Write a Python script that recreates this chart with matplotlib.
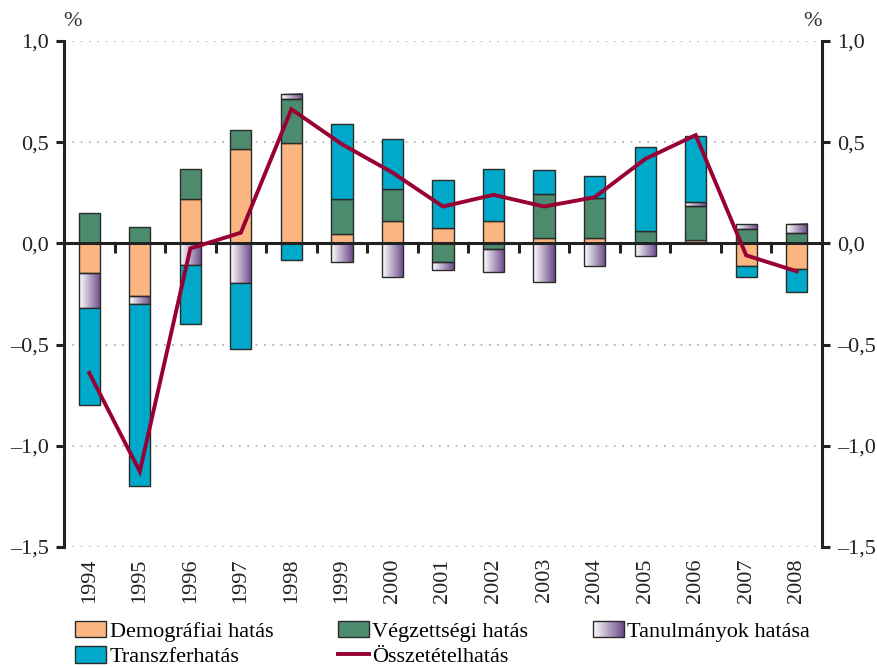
import numpy as np
import matplotlib
matplotlib.use("Agg")
from matplotlib import pyplot as plt
from matplotlib.patches import Rectangle, Patch
from matplotlib.colors import LinearSegmentedColormap
from matplotlib.legend_handler import HandlerBase

years = ['1994', '1995', '1996', '1997', '1998', '1999', '2000', '2001',
         '2002', '2003', '2004', '2005', '2006', '2007', '2008']

demografiai = [-0.145, -0.26, 0.217, 0.466, 0.496, 0.044, 0.113, 0.077,
               0.113, 0.025, 0.026, 0.004, 0.015, -0.112, -0.127]
vegzettsegi = [0.148, 0.08, 0.153, 0.094, 0.217, 0.173, 0.157, -0.094,
               -0.03, 0.218, 0.199, 0.059, 0.171, 0.072, 0.051]
tanulmanyok = [-0.175, -0.04, -0.107, -0.194, 0.027, -0.094, -0.164, -0.039,
               -0.11, -0.19, -0.113, -0.062, 0.017, 0.023, 0.046]
transzfer = [-0.48, -0.90, -0.293, -0.326, -0.08, 0.371, 0.246, 0.237,
             0.257, 0.122, 0.108, 0.414, 0.329, -0.052, -0.114]
osszetetel = [-0.64, -1.127, -0.025, 0.053, 0.663, 0.49, 0.35, 0.182,
              0.24, 0.182, 0.228, 0.417, 0.535, -0.059, -0.138]

yticks = [1.0, 0.5, 0.0, -0.5, -1.0, -1.5]

c_demo = '#fbb581'
c_vegz = '#4d8b6f'
c_trans = '#00a9c9'
c_line = '#990033'
edge = '#2a2a2a'
purple = LinearSegmentedColormap.from_list('tan', ['#ffffff', '#6a4a88'])

plt.rcParams['font.family'] = ['Liberation Serif', 'DejaVu Serif']

fig = plt.figure(figsize=(8.77, 6.68), dpi=100)
ax = fig.add_axes([64 / 877, 1 - 547 / 668, 758 / 877, 506 / 668])

x = np.arange(len(years))
w = 0.42
series = [(demografiai, c_demo), (vegzettsegi, c_vegz),
          (tanulmanyok, None), (transzfer, c_trans)]
pos = np.zeros(len(years))
neg = np.zeros(len(years))
containers = []
for vals, col in series:
    v = np.array(vals)
    bottom = np.where(v >= 0, pos, neg)
    bars = ax.bar(x, v, w, bottom=bottom, color=col if col else 'none',
                  edgecolor=edge, linewidth=1.0, zorder=3)
    containers.append(bars)
    pos = pos + np.where(v >= 0, v, 0)
    neg = neg + np.where(v < 0, v, 0)

# gradient fill of the "Tanulmányok hatása" bars
grad = np.linspace(0, 1, 64).reshape(1, -1)
for rect in containers[2]:
    x0, y0 = rect.get_x(), rect.get_y()
    ax.imshow(grad, cmap=purple, aspect='auto', zorder=2.5,
              extent=(x0, x0 + rect.get_width(), y0, y0 + rect.get_height()))

line, = ax.plot(x, osszetetel, color=c_line, lw=2.8, zorder=5,
                solid_joinstyle='miter')

ax.set_xlim(-0.5, 14.5)
ax.set_ylim(-1.5, 1.0)

ax.set_yticks(yticks)
ylabels = [('%.1f' % t).replace('.', ',').replace('-', '\u2013') for t in yticks]
ax.set_yticklabels(ylabels)
ax.tick_params(axis='y', left=True, right=True, labelleft=True, labelright=True,
               direction='out', length=6, width=2.2, labelsize=16, pad=5,
               colors='#222222')
for t in yticks:
    if t != 0:
        ax.axhline(t, color='#aaaaaa', lw=1.2, ls=(0, (1, 4)), zorder=1)
ax.axhline(0, color='#222222', lw=2.2, zorder=4)

ax.set_xticks(x)
ax.set_xticklabels(years, rotation=90, fontsize=16)
ax.tick_params(axis='x', length=0, pad=8, colors='#222222')

for s in ['top', 'bottom']:
    ax.spines[s].set_visible(False)
for s in ['left', 'right']:
    ax.spines[s].set_linewidth(2.2)
    ax.spines[s].set_color('#222222')

# ticks between categories on the zero line
sec = ax.secondary_xaxis(0.6)
sec.set_xticks(np.arange(0.5, 14, 1.0))
sec.tick_params(axis='x', which='both', direction='in', length=7, width=2.2,
                bottom=False, top=True, labelbottom=False, labeltop=False,
                colors='#222222')
for s in sec.spines.values():
    s.set_visible(False)

fig.text(73 / 877, 1 - 22 / 668, '%', ha='center', va='center', fontsize=16,
         color='#333333')
fig.text(813 / 877, 1 - 22 / 668, '%', ha='center', va='center', fontsize=16,
         color='#333333')


class GradHandler(HandlerBase):
    def create_artists(self, legend, orig_handle, xd, yd, width, height,
                       fontsize, trans):
        arts = []
        n = 20
        for i in range(n):
            arts.append(Rectangle((-xd + width * i / n, -yd), width / n, height,
                                  facecolor=purple((i + 0.5) / n),
                                  edgecolor='none', transform=trans))
        arts.append(Rectangle((-xd, -yd), width, height, facecolor='none',
                              edgecolor=edge, lw=1.0, transform=trans))
        return arts


tan_proxy = Patch(facecolor='none')
handles = [containers[0], containers[3], containers[1], line, tan_proxy]
labels = ['Demográfiai hatás', 'Transzferhatás', 'Végzettségi hatás',
          'Összetételhatás', 'Tanulmányok hatása']
leg = fig.legend(handles, labels, ncol=3, loc='lower left',
                 bbox_to_anchor=(62 / 877, -0.019), frameon=False, fontsize=16,
                 handlelength=1.4, handleheight=0.75, handletextpad=0.15,
                 columnspacing=2.9, labelspacing=0.2, borderpad=0.1,
                 handler_map={tan_proxy: GradHandler()})

fig.savefig('out.png', dpi=100)
